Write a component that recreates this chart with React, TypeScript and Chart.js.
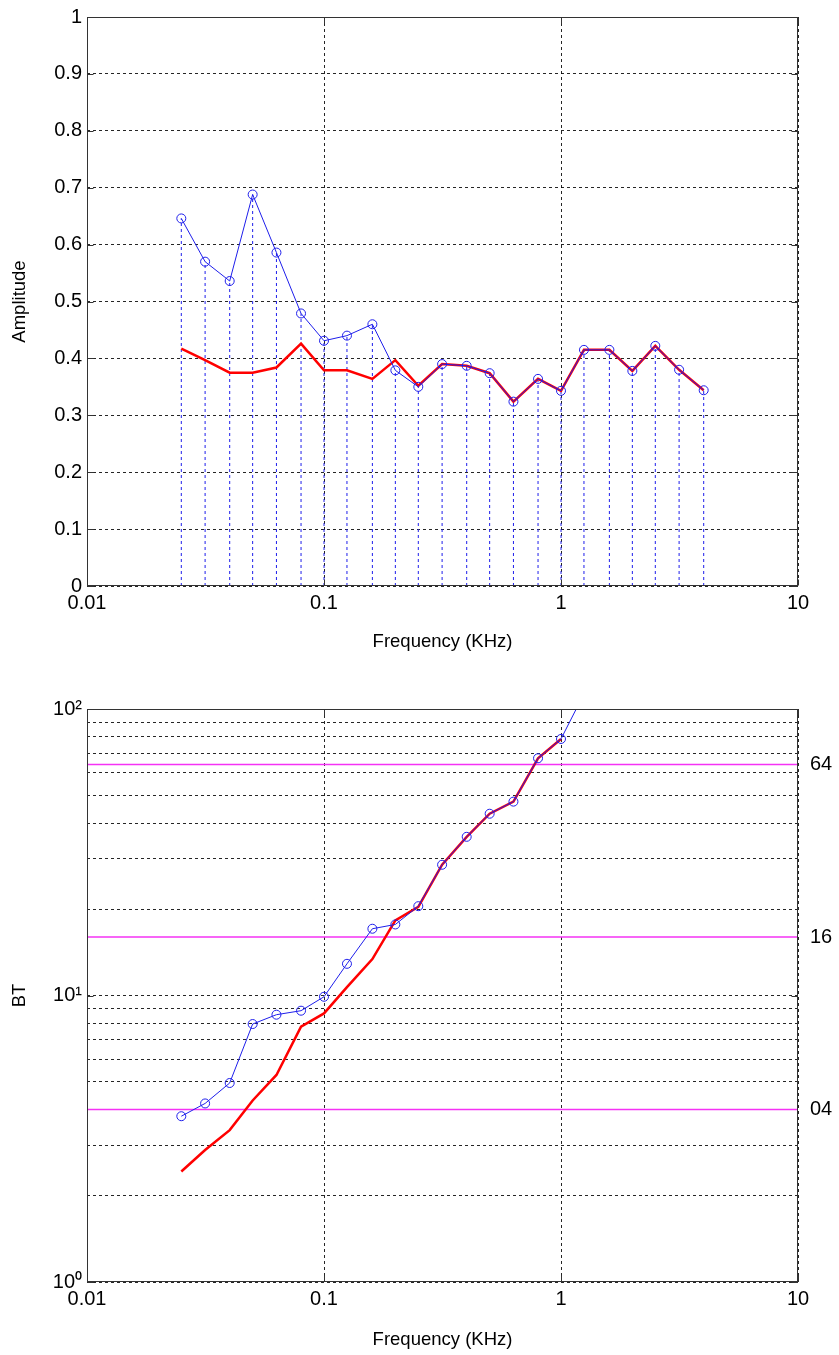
import React, { useEffect, useRef } from 'react';
import { Chart, registerables } from 'chart.js';

Chart.register(...registerables);

// One-third octave band centre frequencies (kHz)
const frequencies = [0.025, 0.0315, 0.04, 0.05, 0.063, 0.08, 0.1, 0.125, 0.16, 0.2, 0.25, 0.315, 0.4, 0.5, 0.63, 0.8, 1, 1.25, 1.6, 2, 2.5, 3.15, 4];

// Amplitude per band: raw (markers + stems) and smoothed envelope
const amplitudeRaw = [0.646, 0.570, 0.536, 0.688, 0.586, 0.479, 0.431, 0.440, 0.460, 0.379, 0.350, 0.390, 0.387, 0.374, 0.324, 0.364, 0.343, 0.415, 0.415, 0.378, 0.422, 0.380, 0.344];
const amplitudeSmooth = [0.417, 0.397, 0.375, 0.375, 0.384, 0.426, 0.379, 0.379, 0.364, 0.397, 0.352, 0.390, 0.387, 0.374, 0.324, 0.364, 0.343, 0.415, 0.415, 0.378, 0.422, 0.380, 0.344];

// BT product per band (first bands only, the rest lies above the plot)
const btRaw = [3.79, 4.20, 4.95, 7.95, 8.57, 8.85, 9.9, 12.9, 17.1, 17.7, 20.5, 28.6, 35.8, 43.1, 47.5, 67.3, 78.6, 113];
const btSmooth = [2.43, 2.89, 3.39, 4.30, 5.28, 7.78, 8.66, 10.7, 13.4, 18.3, 20.4, 28.6, 35.8, 43.1, 47.5, 67.3, 78.6];

// Reference BT levels
const btLevels = [4, 16, 64];
const btLevelLabels = ['04', '16', '64'];

// Axis ticks
const freqTicks = [0.01, 0.1, 1, 10];
const freqTickLabels = ['0.01', '0.1', '1', '10'];
const ampTicks = [0, 0.1, 0.2, 0.3, 0.4, 0.5, 0.6, 0.7, 0.8, 0.9, 1];
const ampTickLabels = ['0', '0.1', '0.2', '0.3', '0.4', '0.5', '0.6', '0.7', '0.8', '0.9', '1'];
const btTicks = [1, 2, 3, 4, 5, 6, 7, 8, 9, 10, 20, 30, 40, 50, 60, 70, 80, 90, 100];
const btMajorTicks = [1, 10, 100];
const btMajorLabels = ['10\u2070', '10\u00B9', '10\u00B2'];

const FONT_FAMILY = '"Liberation Sans", Arial, Helvetica, sans-serif';
const TICK_FONT = { family: FONT_FAMILY, size: 20 };
const TITLE_FONT = { family: FONT_FAMILY, size: 18.5 };
const GRID_COLOR = 'rgba(0,0,0,0.85)';
const BLUE = 'rgb(30,30,235)';
const RED = 'rgb(255,0,0)';
const MAGENTA = 'rgb(245,50,245)';

// Box around the plot area plus short inward tick marks
const framePlugin = {
  id: 'frame',
  afterDraw(chart: any, _args: any, opts: any) {
    const { ctx, chartArea: a } = chart;
    const L = Math.round(a.left) + 0.5;
    const R = Math.round(a.right) - 0.5;
    const T = Math.round(a.top) + 0.5;
    const B = Math.round(a.bottom) - 0.5;
    ctx.save();
    ctx.setLineDash([]);
    ctx.strokeStyle = '#333';
    ctx.lineWidth = 1;
    ctx.strokeRect(L, T, R - L, B - T);
    const seg = (x1: number, y1: number, x2: number, y2: number) => {
      ctx.beginPath();
      ctx.moveTo(x1, y1);
      ctx.lineTo(x2, y2);
      ctx.stroke();
    };
    const xs = chart.scales.x;
    xs.ticks.forEach((t: any) => {
      const px = Math.round(xs.getPixelForValue(t.value)) + 0.5;
      seg(px, B, px, B - 6);
      seg(px, T, px, T + 6);
    });
    const ys = chart.scales.y;
    const majors: number[] | undefined = opts && opts.yMajor;
    ys.ticks.forEach((t: any) => {
      if (majors && majors.indexOf(t.value) < 0) return;
      const py = Math.round(ys.getPixelForValue(t.value)) + 0.5;
      seg(L, py, L + 6, py);
      seg(R, py, R - 6, py);
    });
    ctx.restore();
  },
};

function freqAxis(height: number, titlePadBottom: number) {
  return {
    type: 'logarithmic',
    position: 'bottom',
    min: 0.01,
    max: 10,
    afterBuildTicks: (s: any) => {
      s.ticks = freqTicks.map((v) => ({ value: v }));
    },
    afterFit: (s: any) => {
      s.height = height;
    },
    ticks: {
      callback: (v: number) => freqTickLabels[freqTicks.indexOf(v)] ?? '',
      color: '#000',
      font: TICK_FONT,
      padding: 5,
      maxRotation: 0,
      autoSkip: false,
    },
    grid: { color: GRID_COLOR, lineWidth: 1, drawTicks: false },
    border: { display: false, dash: [3, 3] },
    title: {
      display: true,
      text: 'Frequency (KHz)',
      color: '#000',
      font: TITLE_FONT,
      padding: { top: 0, bottom: titlePadBottom },
    },
  };
}

function AmplitudeChart() {
  const ref = useRef<HTMLCanvasElement>(null);
  useEffect(() => {
    const stems = frequencies.flatMap((f, i) => [
      { x: f, y: 0 },
      { x: f, y: amplitudeRaw[i] },
      { x: f, y: null },
    ]);
    const chart = new Chart(ref.current!, {
      type: 'line',
      data: {
        datasets: [
          {
            data: frequencies.map((f, i) => ({ x: f, y: amplitudeRaw[i] })),
            borderColor: BLUE,
            borderWidth: 1,
            pointStyle: 'circle',
            pointRadius: 4.5,
            pointBorderWidth: 1,
            pointBorderColor: BLUE,
            pointBackgroundColor: 'rgba(0,0,0,0)',
            order: 0,
          },
          {
            data: frequencies.map((f, i) => ({ x: f, y: amplitudeSmooth[i] })),
            borderColor: RED,
            borderWidth: 2.5,
            pointRadius: 0,
            order: 1,
          },
          {
            data: stems as any,
            borderColor: BLUE,
            borderWidth: 1,
            borderDash: [3, 3],
            pointRadius: 0,
            spanGaps: false,
            order: 2,
          },
        ],
      },
      options: {
        responsive: false,
        animation: false,
        events: [],
        layout: { padding: { top: 13, right: 41, left: 0, bottom: 0 } },
        plugins: { legend: { display: false }, tooltip: { enabled: false } },
        scales: {
          x: freqAxis(94, 27) as any,
          y: {
            type: 'linear',
            min: 0,
            max: 1,
            afterBuildTicks: (s: any) => {
              s.ticks = ampTicks.map((v) => ({ value: v }));
            },
            afterFit: (s: any) => {
              s.width = 87;
            },
            ticks: {
              callback: (v: number) => ampTickLabels[ampTicks.indexOf(v)] ?? '',
              color: '#000',
              font: TICK_FONT,
              padding: 5,
            },
            grid: { color: GRID_COLOR, lineWidth: 1, drawTicks: false },
            border: { display: false, dash: [3, 3] },
            title: {
              display: true,
              text: 'Amplitude',
              color: '#000',
              font: TITLE_FONT,
              padding: { top: 9, bottom: 0 },
            },
          },
        },
      },
      plugins: [framePlugin],
    });
    return () => chart.destroy();
  }, []);
  return (
    <canvas
      ref={ref}
      width={839}
      height={680}
      style={{ position: 'absolute', left: 0, top: 0, display: 'block' }}
    />
  );
}

function BtChart() {
  const ref = useRef<HTMLCanvasElement>(null);
  useEffect(() => {
    const levelSets = btLevels.map((lv) => ({
      data: [
        { x: 0.01, y: lv },
        { x: 10, y: lv },
      ],
      borderColor: MAGENTA,
      borderWidth: 1.5,
      pointRadius: 0,
      order: 3,
    }));
    const chart = new Chart(ref.current!, {
      type: 'line',
      data: {
        datasets: [
          {
            data: btRaw.map((v, i) => ({ x: frequencies[i], y: v })),
            borderColor: BLUE,
            borderWidth: 1,
            pointStyle: 'circle',
            pointRadius: 4.5,
            pointBorderWidth: 1,
            pointBorderColor: BLUE,
            pointBackgroundColor: 'rgba(0,0,0,0)',
            order: 0,
          },
          {
            data: btSmooth.map((v, i) => ({ x: frequencies[i], y: v })),
            borderColor: RED,
            borderWidth: 2.5,
            pointRadius: 0,
            order: 1,
          },
          ...levelSets,
        ] as any,
      },
      options: {
        responsive: false,
        animation: false,
        events: [],
        layout: { padding: { top: 29, right: 0, left: 0, bottom: 0 } },
        plugins: {
          legend: { display: false },
          tooltip: { enabled: false },
          frame: { yMajor: btMajorTicks },
        } as any,
        scales: {
          x: freqAxis(73, 4) as any,
          y: {
            type: 'logarithmic',
            position: 'left',
            min: 1,
            max: 100,
            afterBuildTicks: (s: any) => {
              s.ticks = btTicks.map((v) => ({ value: v }));
            },
            afterFit: (s: any) => {
              s.width = 87;
            },
            ticks: {
              callback: (v: number) => {
                const k = btMajorTicks.indexOf(v);
                return k >= 0 ? btMajorLabels[k] : '';
              },
              color: '#000',
              font: TICK_FONT,
              padding: 5,
              autoSkip: false,
            },
            grid: { color: GRID_COLOR, lineWidth: 1, drawTicks: false },
            border: { display: false, dash: [3, 3] },
            title: {
              display: true,
              text: 'BT',
              color: '#000',
              font: TITLE_FONT,
              padding: { top: 9, bottom: 0 },
            },
          } as any,
          yRight: {
            type: 'logarithmic',
            position: 'right',
            min: 1,
            max: 100,
            afterBuildTicks: (s: any) => {
              s.ticks = btLevels.map((v) => ({ value: v }));
            },
            afterFit: (s: any) => {
              s.width = 41;
            },
            ticks: {
              callback: (v: number) => btLevelLabels[btLevels.indexOf(v)] ?? '',
              color: '#000',
              font: TICK_FONT,
              padding: 12,
              autoSkip: false,
            },
            grid: { display: false, drawTicks: false },
            border: { display: false },
          } as any,
        },
      },
      plugins: [framePlugin],
    });
    return () => chart.destroy();
  }, []);
  return (
    <canvas
      ref={ref}
      width={839}
      height={675}
      style={{ position: 'absolute', left: 0, top: 680, display: 'block' }}
    />
  );
}

export default function App() {
  return (
    <div style={{ position: 'absolute', left: 0, top: 0, width: 839, height: 1355, background: '#fff', overflow: 'hidden' }}>
      <AmplitudeChart />
      <BtChart />
    </div>
  );
}
